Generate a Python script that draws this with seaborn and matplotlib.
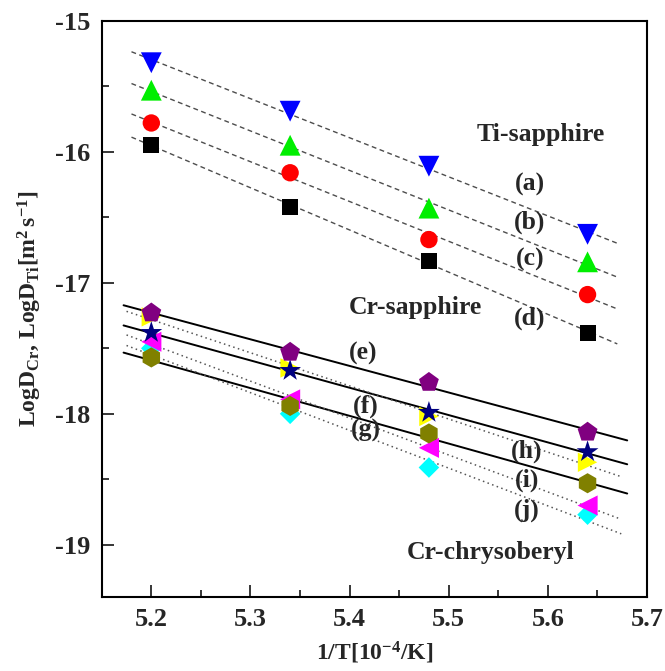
import numpy as np
import pandas as pd
import matplotlib
matplotlib.use("Agg")
import matplotlib.pyplot as plt
import seaborn as sns
from matplotlib.ticker import MultipleLocator

# ---- data ----
inv_T = [5.20, 5.34, 5.48, 5.64]

ti_a = [-15.32, -15.69, -16.11, -16.63]
ti_b = [-15.53, -15.95, -16.43, -16.84]
ti_c = [-15.78, -16.16, -16.67, -17.09]
ti_d = [-15.95, -16.42, -16.83, -17.38]

cr_e = [-17.23, -17.53, -17.76, -18.14]
cr_f = [-17.38, -17.67, -17.99, -18.29]
cr_g = [-17.57, -17.94, -18.15, -18.53]
cr_h = [-17.26, -17.65, -18.02, -18.37]
cr_i = [-17.45, -17.89, -18.26, -18.70]
cr_j = [-17.50, -18.00, -18.41, -18.77]

series_labels = ["(a)", "(b)", "(c)", "(d)", "(e)", "(f)", "(g)", "(h)", "(i)", "(j)"]
group_titles = ["Ti-sapphire", "Cr-sapphire", "Cr-chrysoberyl"]

x_ticks = [5.2, 5.3, 5.4, 5.5, 5.6, 5.7]
y_ticks = [-19, -18, -17, -16, -15]

# fit-line extents
ti_fit_range = [5.18, 5.67]
cr_solid_range = [5.172, 5.68]
cr_dot_range = [5.175, 5.674]

# ---- style ----
sns.set_style("ticks")
plt.rcParams["font.family"] = ["Liberation Serif", "DejaVu Serif"]
plt.rcParams["font.weight"] = "bold"
plt.rcParams["mathtext.fontset"] = "custom"
plt.rcParams["mathtext.rm"] = "Liberation Serif:bold"
plt.rcParams["mathtext.it"] = "Liberation Serif:bold"
plt.rcParams["mathtext.bf"] = "Liberation Serif:bold"
plt.rcParams["axes.unicode_minus"] = False

fig = plt.figure(figsize=(6.65, 6.71), dpi=100)
ax = fig.add_axes([0.153, 0.110, 0.820, 0.859])


def fit_line(y, xr, **kw):
    coef = np.polyfit(inv_T, y, 1)
    xs = np.array(xr)
    sns.lineplot(x=xs, y=np.polyval(coef, xs), ax=ax, **kw)


# Ti fits (dashed grey)
for y in [ti_a, ti_b, ti_c, ti_d]:
    fit_line(y, ti_fit_range, color="#4d4d4d", lw=1.0, dashes=(3.5, 2.5), zorder=1)
# Cr-sapphire fits (solid black)
for y in [cr_e, cr_f, cr_g]:
    fit_line(y, cr_solid_range, color="black", lw=1.4, zorder=1)
# Cr-chrysoberyl fits (dotted grey)
for y in [cr_h, cr_i, cr_j]:
    fit_line(y, cr_dot_range, color="#555555", lw=1.1, dashes=(1.0, 2.2), zorder=1)

markers = [
    (ti_a, "v", "#0000FF", 15.0),
    (ti_b, "^", "#00EE00", 15.0),
    (ti_c, "o", "#FF0000", 12.5),
    (ti_d, "s", "#000000", 11.5),
    (cr_j, "D", "#00FFFF", 10.5),
    (cr_i, "<", "#FF00FF", 14.5),
    (cr_h, ">", "#FFFF00", 14.0),
    (cr_g, "h", "#808000", 14.5),
    (cr_f, "*", "#000080", 16.5),
    (cr_e, "p", "#800080", 15.0),
]
for i, (y, m, c, ms) in enumerate(markers):
    sns.scatterplot(x=inv_T, y=y, marker=m, color=c, s=ms ** 2,
                    edgecolor="none", linewidth=0, ax=ax, zorder=3 + i)

# ---- text ----
fs = 18.5
ax.text(5.593, -15.865, group_titles[0], fontsize=fs, fontweight="bold", ha="center", va="center")
ax.text(5.466, -17.19, group_titles[1], fontsize=fs, fontweight="bold", ha="center", va="center")
ax.text(5.542, -19.06, group_titles[2], fontsize=fs, fontweight="bold", ha="center", va="center")

lab_pos = [
    (5.582, -16.25), (5.582, -16.54), (5.582, -16.82), (5.582, -17.27),
    (5.414, -17.54), (5.416, -17.94), (5.416, -18.125),
    (5.579, -18.29), (5.579, -18.51), (5.579, -18.735),
]
for lab, (px, py) in zip(series_labels, lab_pos):
    ax.text(px, py, lab, fontsize=fs, fontweight="bold", ha="center", va="center")

# ---- axes ----
ax.set_xlim(5.15, 5.70)
ax.set_ylim(-19.4, -15.0)
ax.set_xticks(x_ticks)
ax.set_yticks(y_ticks)
ax.set_xticklabels([f"{v:.1f}" for v in x_ticks])
ax.set_yticklabels([f"{v:d}" for v in y_ticks])
ax.xaxis.set_minor_locator(MultipleLocator(0.05))
ax.yaxis.set_minor_locator(MultipleLocator(0.5))
ax.tick_params(which="both", direction="in", top=False, right=False, width=1.3,
               labelsize=19)
ax.tick_params(which="major", length=8.5, pad=8)
ax.tick_params(which="minor", length=5)
for sp in ax.spines.values():
    sp.set_visible(True)
    sp.set_linewidth(1.5)
    sp.set_color("black")

ax.set_xlabel(r"1/T[10$^{-4}$/K]", fontsize=17, fontweight="bold", labelpad=6)
ax.set_ylabel(r"LogD$_{\rm Cr}$, LogD$_{\rm Ti}$[m$^{2}\,$s$^{-1}$]", fontsize=17,
              fontweight="bold", labelpad=8)

fig.savefig("out.png", dpi=100)
